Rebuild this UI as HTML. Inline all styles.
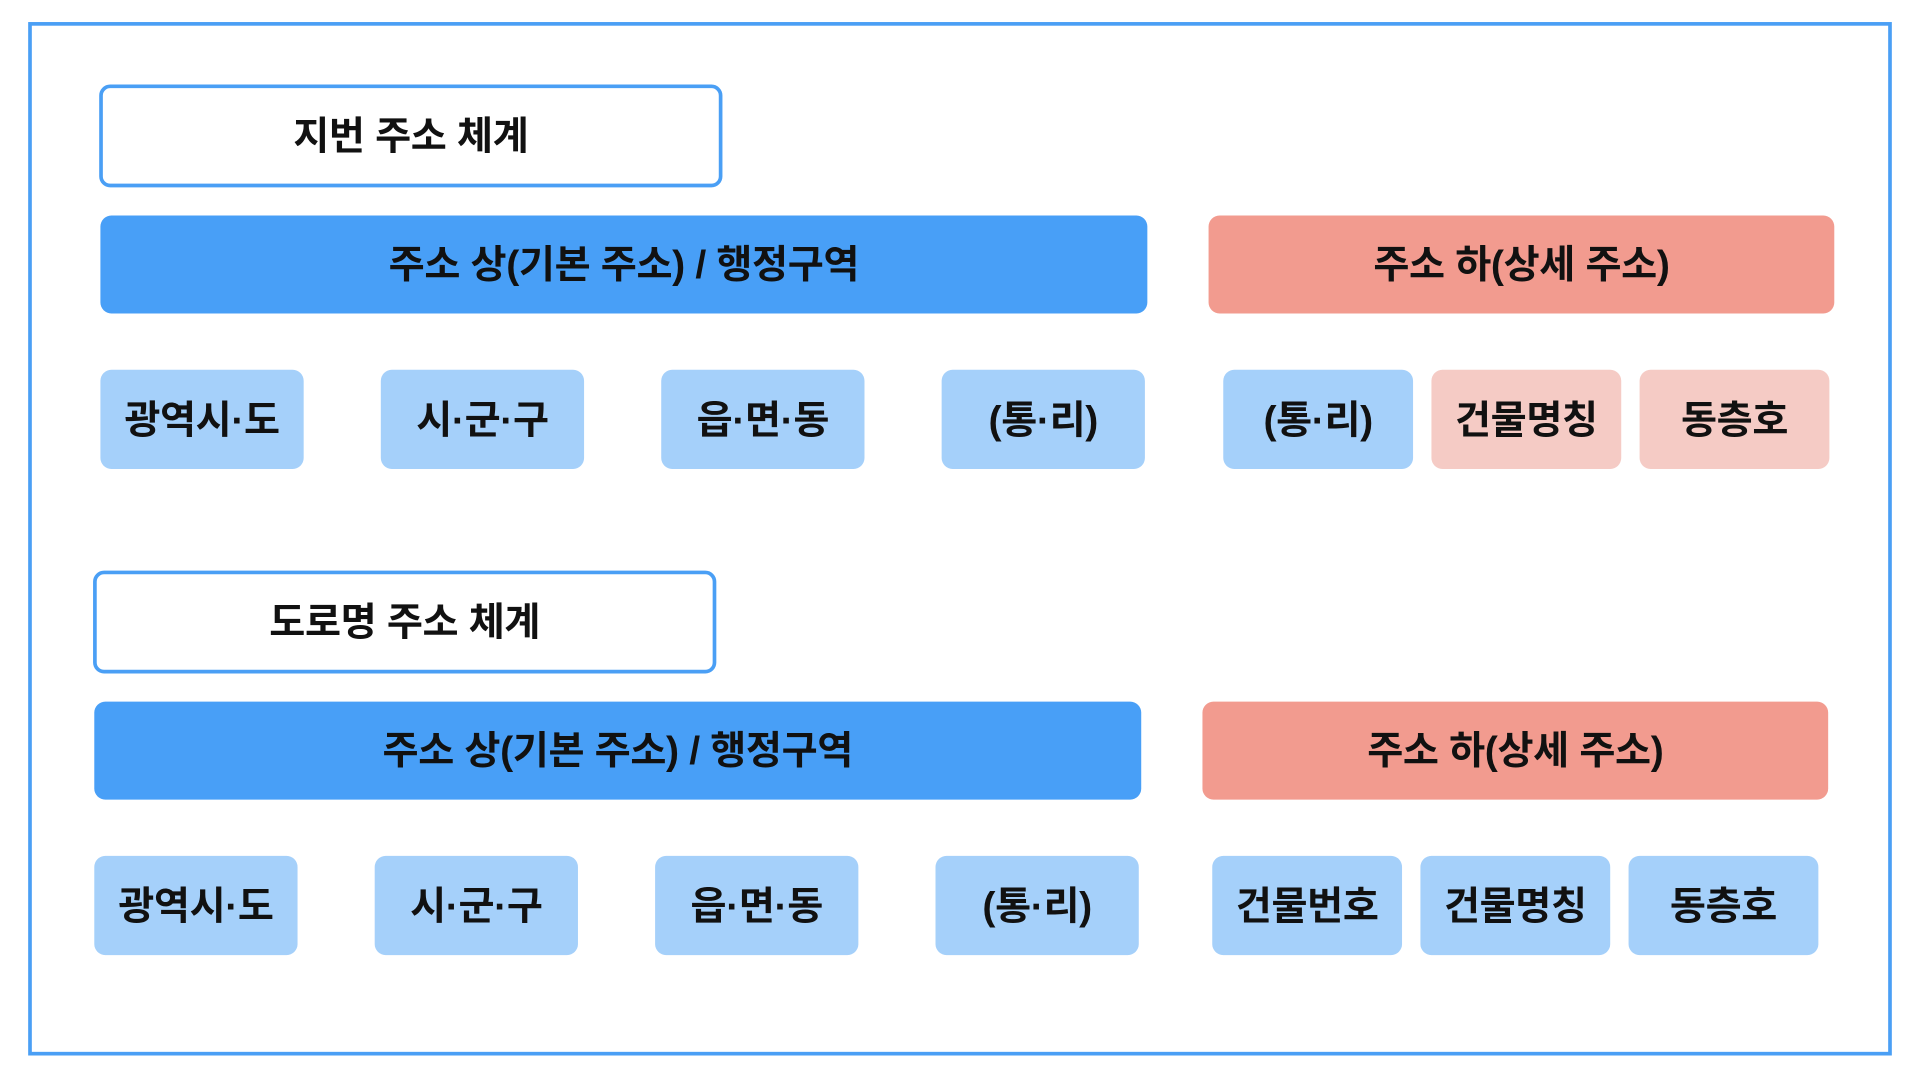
<!DOCTYPE html>
<html><head><meta charset="utf-8"><style>
html,body{margin:0;padding:0;background:#fff;width:1920px;height:1080px;overflow:hidden}
#w{position:absolute;left:0;top:0;width:1568px;height:882px;transform:scale(1.22449);transform-origin:0 0}
.b{position:absolute;box-sizing:border-box;display:flex;align-items:center;justify-content:center;font-family:"Liberation Sans","Noto Sans CJK KR",sans-serif;font-weight:bold;color:#111;border-radius:9px;letter-spacing:-0.3px;padding-bottom:4px;font-size:32px}
.t{border:3px solid #4a9ff5;background:#fff}
.bl{background:#489ff7}
.rd{background:#f29b8f}
.lb{background:#a5d0fa}
.pk{background:#f5cbc5}
</style></head><body><div id="w">
<div style="position:absolute;left:23px;top:18px;width:1522px;height:844px;box-sizing:border-box;border:3px solid #4a9ff5"></div>

<div class="b t" style="left:81px;top:69px;width:509px;height:84px">지번 주소 체계</div>
<div class="b bl" style="left:82px;top:176px;width:855px;height:80px">주소 상(기본 주소) / 행정구역</div>
<div class="b rd" style="left:987px;top:176px;width:511px;height:80px">주소 하(상세 주소)</div>
<div class="b lb" style="left:82px;top:302px;width:166px;height:81px">광역시·도</div>
<div class="b lb" style="left:311px;top:302px;width:166px;height:81px">시·군·구</div>
<div class="b lb" style="left:540px;top:302px;width:166px;height:81px">읍·면·동</div>
<div class="b lb" style="left:769px;top:302px;width:166px;height:81px">(통·리)</div>
<div class="b lb" style="left:999px;top:302px;width:155px;height:81px">(통·리)</div>
<div class="b pk" style="left:1169px;top:302px;width:155px;height:81px">건물명칭</div>
<div class="b pk" style="left:1339px;top:302px;width:155px;height:81px">동층호</div>

<div class="b t" style="left:76px;top:466px;width:509px;height:84px">도로명 주소 체계</div>
<div class="b bl" style="left:77px;top:573px;width:855px;height:80px">주소 상(기본 주소) / 행정구역</div>
<div class="b rd" style="left:982px;top:573px;width:511px;height:80px">주소 하(상세 주소)</div>
<div class="b lb" style="left:77px;top:699px;width:166px;height:81px">광역시·도</div>
<div class="b lb" style="left:306px;top:699px;width:166px;height:81px">시·군·구</div>
<div class="b lb" style="left:535px;top:699px;width:166px;height:81px">읍·면·동</div>
<div class="b lb" style="left:764px;top:699px;width:166px;height:81px">(통·리)</div>
<div class="b lb" style="left:990px;top:699px;width:155px;height:81px">건물번호</div>
<div class="b lb" style="left:1160px;top:699px;width:155px;height:81px">건물명칭</div>
<div class="b lb" style="left:1330px;top:699px;width:155px;height:81px">동층호</div>
</div></body></html>
